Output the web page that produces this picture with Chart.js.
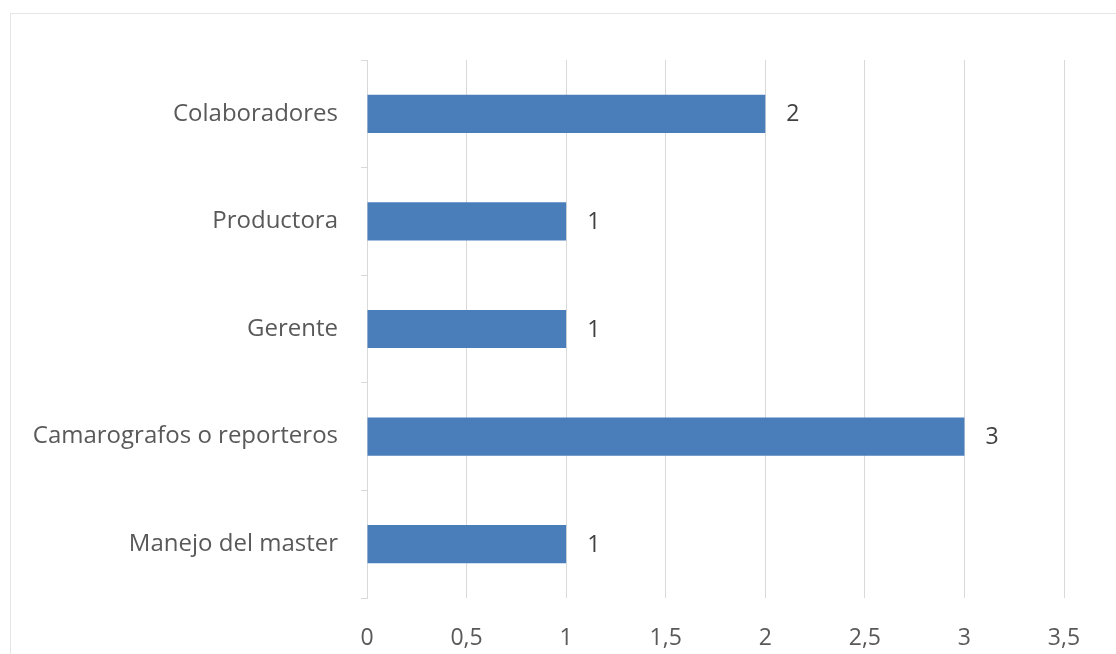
<!DOCTYPE html>
<html>
<head>
<meta charset="utf-8">
<script src="https://cdn.jsdelivr.net/npm/chart.js@4/dist/chart.umd.min.js"></script>
<style>
  html, body { margin: 0; padding: 0; background: #fff; overflow: hidden; }
  #marco { position: absolute; left: 10px; top: 13px; width: 1200px; height: 700px; border: 1px solid #e6e6e6; }
  #lienzo { position: absolute; left: 0; top: 0; width: 1116px; height: 654px; }
</style>
</head>
<body>
<div id="marco"></div>
<div id="lienzo"><canvas id="grafica" width="1116" height="654"></canvas></div>
<script>
// datos
const categorias = ['Colaboradores', 'Productora', 'Gerente', 'Camarografos o reporteros', 'Manejo del master'];
const valores = [2, 1, 1, 3, 1];
const ticksX = [0, 0.5, 1, 1.5, 2, 2.5, 3, 3.5];

const colorBarra = '#4a7ebb';
const colorTexto = '#595959';
const colorRejilla = '#d9d9d9';
const fuente = '"Open Sans", Lato, sans-serif';

// etiquetas de valor a la derecha de cada barra
const etiquetasValor = {
    id: 'etiquetasValor',
    afterDatasetsDraw(chart) {
        const ctx = chart.ctx;
        const meta = chart.getDatasetMeta(0);
        ctx.save();
        ctx.font = '23px ' + fuente;
        ctx.fillStyle = '#404040';
        ctx.textAlign = 'left';
        ctx.textBaseline = 'middle';
        meta.data.forEach((barra, i) => {
            ctx.fillText(String(valores[i]), barra.x + 21, barra.y + 1);
        });
        ctx.restore();
    }
};

new Chart(document.getElementById('grafica'), {
    type: 'bar',
    data: {
        labels: categorias,
        datasets: [{
            data: valores,
            backgroundColor: colorBarra,
            borderWidth: 0,
            categoryPercentage: 1,
            barPercentage: 0.355
        }]
    },
    options: {
        indexAxis: 'y',
        responsive: false,
        animation: false,
        layout: { padding: { top: 60, right: 52, left: 0, bottom: 0 } },
        plugins: {
            legend: { display: false },
            tooltip: { enabled: false }
        },
        scales: {
            x: {
                min: 0,
                max: 3.5,
                afterBuildTicks(axis) {
                    axis.ticks = ticksX.map(v => ({ value: v }));
                },
                afterFit(axis) { axis.height = 56; },
                ticks: {
                    color: colorTexto,
                    font: { size: 23, family: fuente },
                    padding: 27,
                    callback: (v) => String(v).replace('.', ',')
                },
                grid: { color: colorRejilla, drawTicks: false },
                border: { display: false }
            },
            y: {
                afterFit(axis) { axis.width = 367; },
                ticks: {
                    color: colorTexto,
                    font: { size: 24, family: fuente },
                    padding: 23
                },
                grid: { drawOnChartArea: false, color: colorRejilla, tickLength: 6, offset: true },
                border: { display: true, color: colorRejilla }
            }
        }
    },
    plugins: [etiquetasValor]
});
</script>
</body>
</html>
